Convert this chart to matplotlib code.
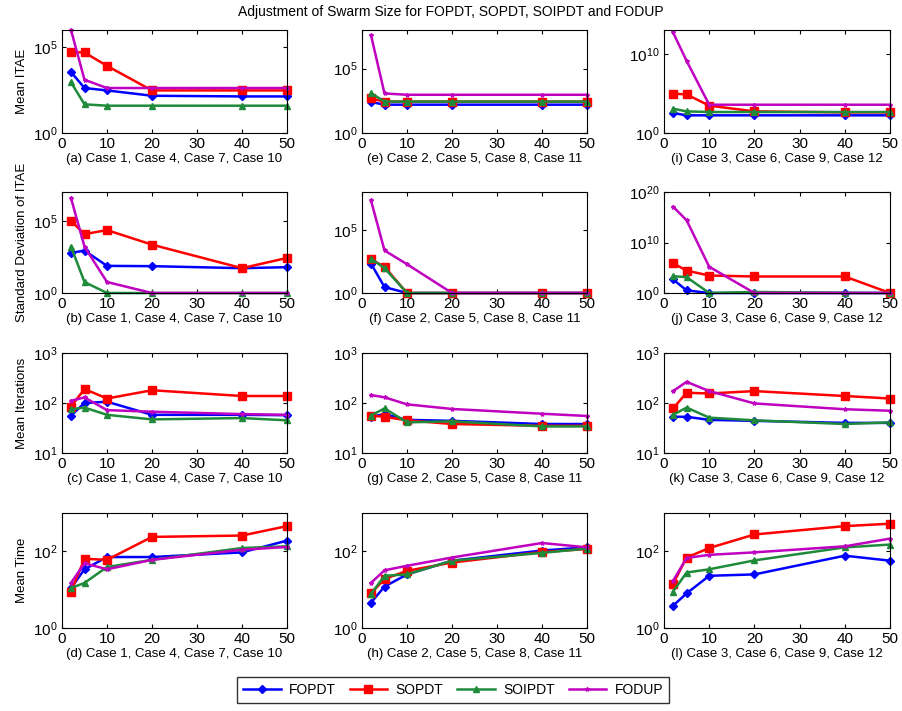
import numpy as np
import matplotlib
matplotlib.use("Agg")
import matplotlib.pyplot as plt
from matplotlib.ticker import FixedLocator, NullLocator, LogFormatterMathtext

plt.rcParams['font.family'] = ['Liberation Sans', 'DejaVu Sans']
plt.rcParams['mathtext.fontset'] = 'custom'
plt.rcParams['mathtext.rm'] = 'Liberation Sans'
plt.rcParams['mathtext.it'] = 'Liberation Sans'

swarm = [2, 5, 10, 20, 40, 50]
models = ['FOPDT', 'SOPDT', 'SOIPDT', 'FODUP']

# log10 of Mean ITAE and Std ITAE
itae_c1 = {'FOPDT': [3.55, 2.62, 2.48, 2.17, 2.13, 2.13],
           'SOPDT': [4.71, 4.69, 3.91, 2.48, 2.48, 2.48],
           'SOIPDT': [2.95, 1.67, 1.59, 1.59, 1.59, 1.59],
           'FODUP': [6.0, 3.10, 2.62, 2.62, 2.62, 2.62]}
itae_c2 = {'FOPDT': [2.41, 2.20, 2.20, 2.20, 2.20, 2.20],
           'SOPDT': [2.68, 2.44, 2.44, 2.44, 2.44, 2.44],
           'SOIPDT': [3.10, 2.44, 2.44, 2.44, 2.44, 2.44],
           'FODUP': [7.60, 3.07, 2.97, 2.97, 2.97, 2.97]}
itae_c3 = {'FOPDT': [2.52, 2.23, 2.23, 2.23, 2.23, 2.23],
           'SOPDT': [4.96, 4.87, 3.45, 2.73, 2.60, 2.60],
           'SOIPDT': [3.07, 2.73, 2.65, 2.65, 2.65, 2.65],
           'FODUP': [12.7, 9.10, 3.57, 3.57, 3.57, 3.57]}

std_c1 = {'FOPDT': [2.78, 2.94, 1.88, 1.86, 1.72, 1.79],
          'SOPDT': [5.00, 4.08, 4.36, 3.35, 1.72, 2.43],
          'SOIPDT': [3.21, 0.76, 0.0, 0.0, 0.0, 0.0],
          'FODUP': [6.58, 3.21, 0.76, 0.0, 0.0, 0.0]}
std_c2 = {'FOPDT': [2.33, 0.47, 0.0, 0.0, 0.0, 0.0],
          'SOPDT': [2.67, 2.07, 0.0, 0.0, 0.0, 0.0],
          'SOIPDT': [2.72, 1.97, 0.0, 0.0, 0.0, 0.0],
          'FODUP': [7.33, 3.37, 2.28, 0.0, 0.0, 0.0]}
std_c3 = {'FOPDT': [2.68, 0.52, 0.0, 0.0, 0.0, 0.0],
          'SOPDT': [5.90, 4.44, 3.46, 3.27, 3.27, 0.0],
          'SOIPDT': [3.33, 3.14, 0.0, 0.2, 0.05, 0.0],
          'FODUP': [17.1, 14.4, 5.20, 0.0, 0.0, 0.0]}

iter_c1 = {'FOPDT': [56, 100, 106, 58, 58, 57],
           'SOPDT': [85, 190, 123, 180, 138, 138],
           'SOIPDT': [75, 81, 58, 47, 50, 45],
           'FODUP': [111, 129, 72, 67, 60, 58]}
iter_c2 = {'FOPDT': [53, 60, 46, 44, 38, 38],
           'SOPDT': [56, 53, 45, 38, 35, 35],
           'SOIPDT': [56, 78, 41, 43, 34, 34],
           'FODUP': [144, 130, 94, 76, 61, 55]}
iter_c3 = {'FOPDT': [53, 53, 46, 44, 40, 40],
           'SOPDT': [78, 160, 155, 173, 138, 123],
           'SOIPDT': [58, 81, 51, 45, 38, 41],
           'FODUP': [173, 265, 173, 98, 75, 70]}

time_c1 = {'FOPDT': [11, 34, 71, 71, 94, 190],
           'SOPDT': [8.9, 64, 60, 238, 258, 455],
           'SOIPDT': [11, 15, 39, 60, 122, 135],
           'FODUP': [15, 49, 34, 60, 110, 130]}
time_c2 = {'FOPDT': [4.6, 12, 25, 57, 105, 127],
           'SOPDT': [8, 19, 31, 51, 96, 115],
           'SOIPDT': [7.7, 23, 25, 57, 91, 118],
           'FODUP': [15, 32, 42, 69, 165, 127]}
time_c3 = {'FOPDT': [3.8, 8, 23, 25, 77, 57],
           'SOPDT': [14, 69, 122, 275, 455, 525],
           'SOIPDT': [8.9, 28, 34, 58, 127, 150],
           'FODUP': [17, 67, 81, 94, 135, 215]}

captions = [['(a) Case 1, Case 4, Case 7, Case 10', '(e) Case 2, Case 5, Case 8, Case 11', '(i) Case 3, Case 6, Case 9, Case 12'],
            ['(b) Case 1, Case 4, Case 7, Case 10', '(f) Case 2, Case 5, Case 8, Case 11', '(j) Case 3, Case 6, Case 9, Case 12'],
            ['(c) Case 1, Case 4, Case 7, Case 10', '(g) Case 2, Case 5, Case 8, Case 11', '(k) Case 3, Case 6, Case 9, Case 12'],
            ['(d) Case 1, Case 4, Case 7, Case 10', '(h) Case 2, Case 5, Case 8, Case 11', '(l) Case 3, Case 6, Case 9, Case 12']]
row_labels = ['Mean ITAE', 'Standard Deviation of ITAE', 'Mean Iterations', 'Mean Time']

styles = {'FOPDT': dict(color='#0000ff', marker='D', ms=4),
          'SOPDT': dict(color='#ff0000', marker='s', ms=6),
          'SOIPDT': dict(color='#1f8a3a', marker='^', ms=5),
          'FODUP': dict(color='#c000c0', marker='*', ms=3)}

# (data, stored as log10?, ylim, yticks)
panels = [
    [(itae_c1, True, (1, 1e6), [1, 1e5]), (itae_c2, True, (1, 1e8), [1, 1e5]), (itae_c3, True, (1, 1e13), [1, 1e10])],
    [(std_c1, True, (1, 1e7), [1, 1e5]), (std_c2, True, (1, 1e8), [1, 1e5]), (std_c3, True, (1, 1e20), [1, 1e10, 1e20])],
    [(iter_c1, False, (10, 1e3), [10, 100, 1000]), (iter_c2, False, (10, 1e3), [10, 100, 1000]), (iter_c3, False, (10, 1e3), [10, 100, 1000])],
    [(time_c1, False, (1, 1e3), [1, 100]), (time_c2, False, (1, 1e3), [1, 100]), (time_c3, False, (1, 1e3), [1, 100])],
]

W, H = 902, 711
fig = plt.figure(figsize=(W / 100, H / 100), dpi=100)

col_lr = [(62, 287), (362, 587), (664, 890)]
row_tb = [(30, 133), (192, 293), (353, 453), (513, 628)]

for r in range(4):
    for c in range(3):
        l, rr = col_lr[c]
        t, b = row_tb[r]
        ax = fig.add_axes([l / W, 1 - b / H, (rr - l) / W, (b - t) / H])
        data, is_log, ylim, yt = panels[r][c]
        for m in models:
            vals = np.array(data[m], dtype=float)
            if is_log:
                vals = 10 ** vals
            st = styles[m]
            ax.plot(swarm, vals, color=st['color'], marker=st['marker'], ms=st['ms'],
                    lw=1.8, mec=st['color'], mfc=st['color'], clip_on=False)
        ax.set_yscale('log')
        ax.set_xlim(0, 50)
        ax.set_ylim(*ylim)
        ax.yaxis.set_major_locator(FixedLocator(yt))
        ax.yaxis.set_major_formatter(LogFormatterMathtext())
        ax.yaxis.set_minor_locator(NullLocator())
        ax.set_xticks([0, 10, 20, 30, 40, 50])
        ax.tick_params(direction='in', top=True, right=True, labelsize=11, length=3, pad=3)
        ax.set_xlabel(captions[r][c], fontsize=9.5, labelpad=1)
        if c == 0:
            ax.set_ylabel(row_labels[r], fontsize=9.5)
        for s in ax.spines.values():
            s.set_linewidth(0.8)

fig.text(0.5, 1 - 12 / H, 'Adjustment of Swarm Size for FOPDT, SOPDT, SOIPDT and FODUP',
         ha='center', va='center', fontsize=10)

handles = [plt.Line2D([], [], color=styles[m]['color'], marker=styles[m]['marker'],
                      ms=styles[m]['ms'], lw=1.8) for m in models]
fig.legend(handles, models, loc='center', ncol=4, bbox_to_anchor=(453 / W, 1 - 690 / H),
           frameon=True, fancybox=False, edgecolor='black', fontsize=10,
           handlelength=2.7, handletextpad=0.6, columnspacing=1.0, borderpad=0.4)

fig.savefig('out.png', dpi=100)
